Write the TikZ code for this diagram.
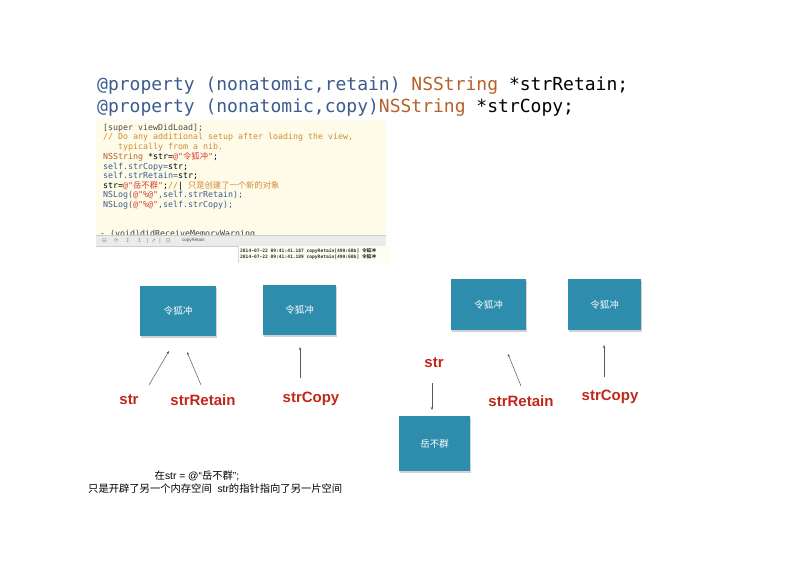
\documentclass[tikz,border=0pt]{standalone}
\usepackage{fontspec}
\setmainfont{Liberation Sans}
\newfontfamily\cjkf{Noto Sans CJK SC}
\newfontfamily\monof{DejaVu Sans Mono}
\newfontfamily\symf{DejaVu Sans}
\usetikzlibrary{shadows,arrows.meta}
\definecolor{kw}{HTML}{3B5C8C}
\definecolor{ty}{HTML}{B8612A}
\definecolor{cm}{HTML}{D08A35}
\definecolor{st}{HTML}{D6392A}
\definecolor{boxc}{HTML}{2E8CAD}
\definecolor{lbl}{HTML}{C0281A}
\definecolor{codebg}{HTML}{FEFCE9}
\newcommand\cj[1]{{\cjkf #1}}
\tikzset{
  hdr/.style={anchor=west,inner sep=0pt,font=\monof\fontsize{18}{20}\selectfont},
  codeln/.style={anchor=west,inner sep=0pt,font=\monof\fontsize{8.3}{9}\selectfont,text=kw},
  consln/.style={anchor=west,inner sep=0pt,font=\monof\bfseries\fontsize{4.6}{5}\selectfont,text=black!80},
  membox/.style={fill=boxc,draw=none,minimum width=#1,text=white,font=\cjkf\fontsize{9.5}{11}\selectfont,drop shadow={shadow xshift=0.8pt,shadow yshift=-1.5pt,opacity=0.35}},
  membox/.default=75pt,
  varlbl/.style={text=lbl,font=\bfseries\fontsize{15}{17}\selectfont,inner sep=1pt},
  ptr/.style={draw=black!65,line width=0.5pt,-{Stealth[length=3pt,width=2.5pt]}},
  note/.style={font=\fontsize{10.3}{12}\selectfont,inner sep=0pt}
}
\begin{document}
\begin{tikzpicture}[x=1pt,y=-1pt]
\useasboundingbox (0,0) rectangle (792,560);
\fill[white] (0,0) rectangle (792,560);
% header
\node[hdr] (h1) at (97,86) {\textcolor{kw}{@property (nonatomic,retain)} \textcolor{ty}{NSString} *strRetain;};
\node[hdr] (h2) at (97,108) {\textcolor{kw}{@property (nonatomic,copy)}\textcolor{ty}{NSString} *strCopy;};
% code screenshot
\fill[codebg] (96,120) rectangle (386,235);
\begin{scope}
\clip (96,120) rectangle (386,234.5);
\node[codeln,text=black!75,anchor=base west,text height=4pt,text depth=0pt] (c0) at (100,236.5) {- (void)didReceiveMemoryWarning};
\end{scope}
\node[codeln,text=black!70] (c1) at (103,128) {[super viewDidLoad];};
\node[codeln,text=cm] (c2) at (103,137.7) {// Do any additional setup after loading the view,};
\node[codeln,text=cm] (c3) at (103,147.3) {\phantom{ABC}typically from a nib.};
\node[codeln] (c4) at (103,157) {\textcolor{ty}{NSString} \textcolor{black}{*str=}\textcolor{st}{@"\cj{令狐冲}"}\textcolor{black}{;}};
\node[codeln] (c5) at (103,166.7) {self.strCopy=\textcolor{black}{str;}};
\node[codeln] (c6) at (103,176.3) {self.strRetain=\textcolor{black}{str;}};
\node[codeln] (c7) at (103,186) {\textcolor{black}{str=}\textcolor{st}{@"\cj{岳不群}"}\textcolor{black}{;}\textcolor{cm}{//\textcolor{black}{|} \cj{只是创建了一个新的对象}}};
\node[codeln] (c8) at (103,195.7) {NSLog(\textcolor{st}{@"\%@"},self.strRetain);};
\node[codeln] (c9) at (103,205.3) {NSLog(\textcolor{st}{@"\%@"},self.strCopy);};
% toolbar
\fill[black!8] (96,235) rectangle (386,246);
\draw[black!20,line width=0.3pt] (96,235) -- (386,235) (96,246) -- (386,246);
\node[inner sep=0pt,font=\symf\fontsize{5.5}{6}\selectfont,text=black!45,anchor=west] (tb) at (102,240.8) {⊟\hspace{7pt}⟳\hspace{7pt}↧\hspace{7pt}↥\hspace{5pt}|\hspace{3pt}➚\hspace{3pt}|\hspace{5pt}⊡};
\node[inner sep=0pt,font=\fontsize{4.5}{5}\selectfont,text=black!70,anchor=west] (tbt) at (182,240.8) {copyRetain};
% console
\fill[codebg!60] (238,246) rectangle (390,263);
\draw[black!15,line width=0.3pt] (238,246) -- (238,263);
\node[consln] (k1) at (240,250.5) {2014-07-22 09:41:41.187 copyRetain[499:60b] \cj{令狐冲}};
\node[consln] (k2) at (240,257) {2014-07-22 09:41:41.189 copyRetain[499:60b] \cj{令狐冲}};
% left diagram
\node[membox=76pt,minimum height=50pt] (b1) at (178,311) {令狐冲};
\node[membox=73pt,minimum height=50pt] (b2) at (299.5,310) {令狐冲};
\node[varlbl] (l1) at (129,400) {str};
\node[varlbl] (l2) at (203,400) {strRetain};
\node[varlbl] (l3) at (311,399) {strCopy};
\coordinate (p1s) at (149,385); \coordinate (p1e) at (169,351);
\coordinate (p2s) at (201,385); \coordinate (p2e) at (187,352);
\coordinate (p3s) at (300,378); \coordinate (p3e) at (300,347);
\draw[ptr] (p1s) -- (p1e);
\draw[ptr] (p2s) -- (p2e);
\draw[ptr] (p3s) -- (p3e);
% right diagram
\node[membox=75pt,minimum height=51pt] (b3) at (488.5,304.5) {令狐冲};
\node[membox=73pt,minimum height=51pt] (b4) at (604.5,304.5) {令狐冲};
\node[membox=71pt,minimum height=55pt] (b5) at (434.5,443.5) {岳不群};
\node[varlbl] (r1) at (434,363) {str};
\node[varlbl] (r2) at (521,401) {strRetain};
\node[varlbl] (r3) at (610,397) {strCopy};
\coordinate (q1s) at (432,383); \coordinate (q1e) at (432,410);
\coordinate (q2s) at (521,386); \coordinate (q2e) at (508,354);
\coordinate (q3s) at (604,377); \coordinate (q3e) at (604,345);
\draw[ptr] (q1s) -- (q1e);
\draw[ptr] (q2s) -- (q2e);
\draw[ptr] (q3s) -- (q3e);
% note
\node[note] (n1) at (197,475.5) {\cj{在}str = @“\cj{岳不群}”;};
\node[note,anchor=west] (n2) at (88,488.5) {\cj{只是开辟了另一个内存空间}\ \ str\cj{的指针指向了另一片空间}};
\end{tikzpicture}
\end{document}
